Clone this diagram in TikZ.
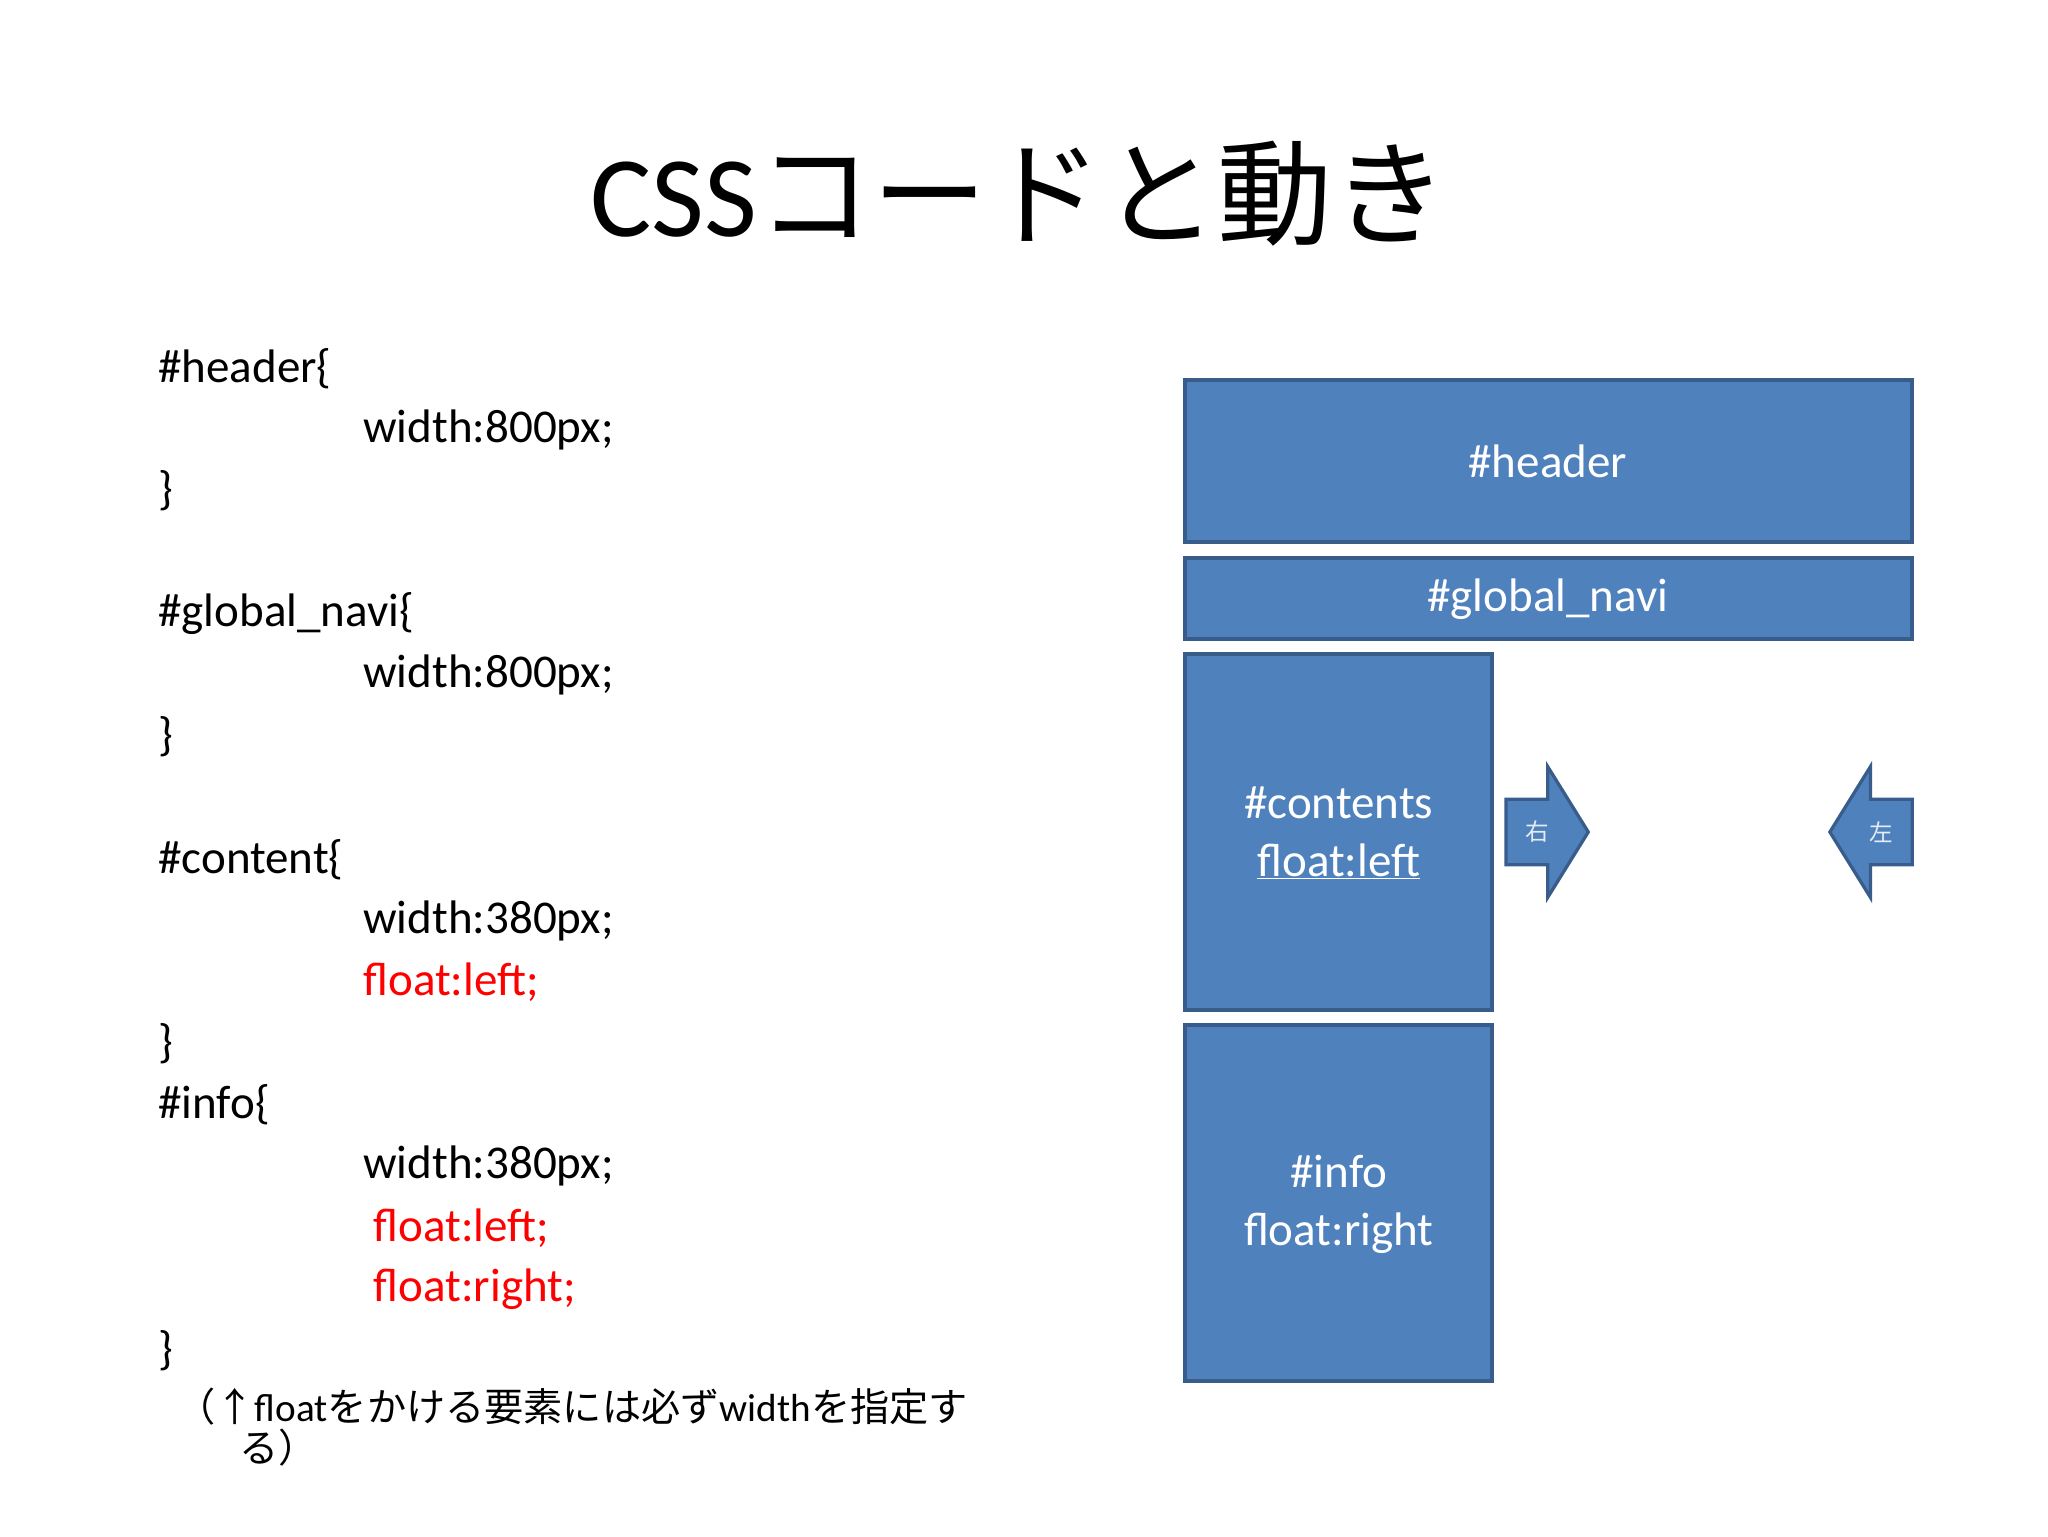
\documentclass[tikz,border=0pt]{standalone}
\usepackage{fontspec}
\setmainfont{Carlito}
\newfontfamily\cjk{Noto Sans CJK JP}
\usetikzlibrary{shapes.arrows}
\definecolor{boxfill}{HTML}{4F81BD}
\definecolor{boxline}{HTML}{385D8A}
\definecolor{cssred}{HTML}{FF0000}
\begin{document}
\begin{tikzpicture}[x=1pt,y=-1pt,
  code/.style={anchor=west,inner sep=0pt,font=\fontsize{36}{40}\selectfont},
  red/.style={code,text=cssred},
  box/.style={draw=boxline,line width=3pt,fill=boxfill},
  btext/.style={text=white,font=\fontsize{36}{44}\selectfont,align=center},
  arr/.style={draw=boxline,line width=2.5pt,fill=boxfill,line join=miter}]
\useasboundingbox (0,0) rectangle (1568,1176);
\node (title) at (780,148) {\fontsize{88}{96}\selectfont CSS{\cjk コードと動き}};
\node[code] (l1) at (121,282) {\#header\{};
\node[code] (l2) at (278,329) {width:800px;};
\node[code] (l3) at (121,376) {\}};
\node[code] (l4) at (121,470) {\#global\_navi\{};
\node[code] (l5) at (278,517) {width:800px;};
\node[code] (l6) at (121,564) {\}};
\node[code] (l7) at (121,658) {\#content\{};
\node[code] (l8) at (278,705) {width:380px;};
\node[red] (l9) at (278,752) {float:left;};
\node[code] (l10) at (121,799) {\}};
\node[code] (l11) at (121,846) {\#info\{};
\node[code] (l12) at (278,893) {width:380px;};
\node[red] (l13) at (286,940) {float:left;};
\node[red] (l14) at (286,987) {float:right;};
\node[code] (l15) at (121,1034) {\}};
\node[anchor=west,inner sep=0pt,font=\fontsize{30}{34}\selectfont] (n1) at (135,1077) {{\cjk （↑}float{\cjk をかける要素には必ず}width{\cjk を指定す}};
\node[anchor=west,inner sep=0pt,font=\fontsize{30}{34}\selectfont] (n2) at (183,1108) {\cjk る）};
\draw[box] (907,291) rectangle (1464,415);
\node[btext] (h) at (1185,353) {\#header};
\draw[box] (907,427) rectangle (1464,489);
\node[btext] (g) at (1185,459) {\#global\_navi};
\draw[box] (907,501) rectangle (1142,773);
\node[btext] (c) at (1025,638) {\#contents\\\underline{float:left}};
\draw[box] (907,785) rectangle (1142,1057);
\node[btext] (i) at (1025,922) {\#info\\float:right};
\draw[arr] (1153,612) -- (1185,612) -- (1185,587) -- (1216,637) -- (1185,687) -- (1185,662) -- (1153,662) -- cycle;
\node[text=white!85!boxfill,font=\cjk\fontsize{18}{20}\selectfont] (ra) at (1177,637) {右};
\draw[arr] (1464,612) -- (1432,612) -- (1432,587) -- (1401,637) -- (1432,687) -- (1432,662) -- (1464,662) -- cycle;
\node[text=white!85!boxfill,font=\cjk\fontsize{18}{20}\selectfont] (la) at (1440,637) {左};
\end{tikzpicture}
\end{document}
